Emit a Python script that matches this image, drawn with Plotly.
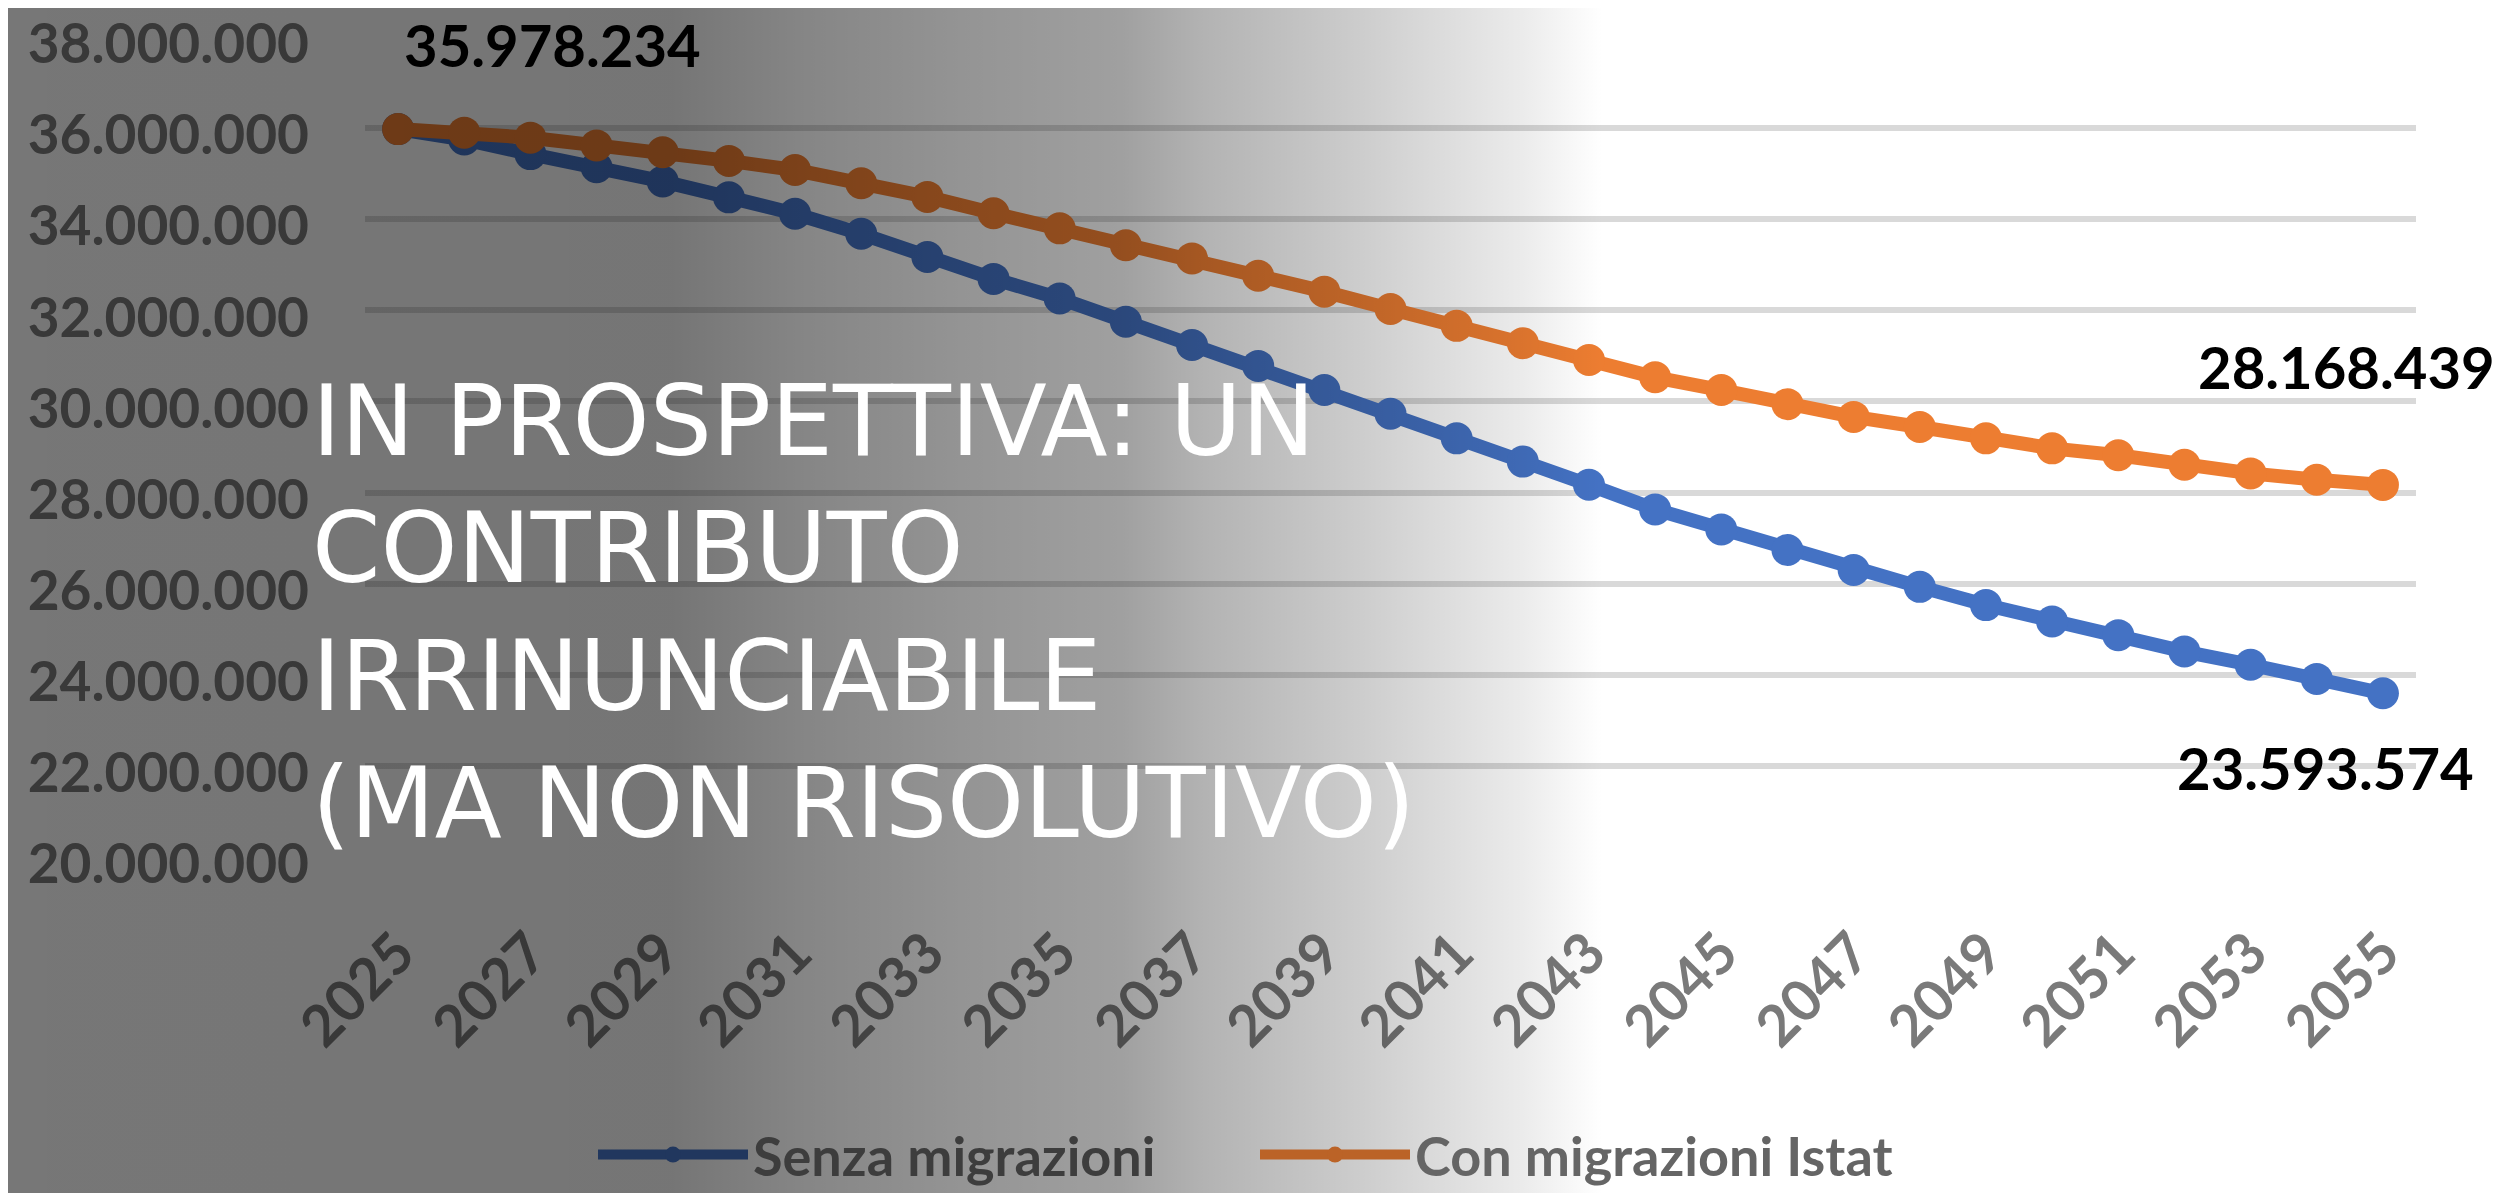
"""Popolazione in età lavorativa: proiezione con e senza migrazioni (2025-2055)."""
import base64

import plotly.graph_objects as go

# the page body keeps its 8px margin, so the figure is 16px smaller than the window
# and every position below is measured in the window and then moved by OFF
WIN_W, WIN_H = 2514, 1201
OFF = 8
W, H = WIN_W - 2 * OFF, WIN_H - 2 * OFF

# --- data -------------------------------------------------------------------
years = list(range(2025, 2056))

senza_migrazioni = [35978234, 35750000, 35430000, 35140000, 34830000, 34480000,
                    34120000, 33680000, 33170000, 32690000, 32260000, 31750000,
                    31240000, 30780000, 30250000, 29730000, 29190000, 28680000,
                    28170000, 27630000, 27190000, 26740000, 26300000, 25930000,
                    25530000, 25170000, 24870000, 24510000, 24220000, 23910000,
                    23593574]

con_migrazioni = [35978234, 35900000, 35790000, 35620000, 35470000, 35280000,
                  35080000, 34790000, 34490000, 34130000, 33800000, 33430000,
                  33140000, 32760000, 32410000, 32030000, 31660000, 31280000,
                  30910000, 30530000, 30250000, 29940000, 29660000, 29440000,
                  29190000, 28970000, 28820000, 28610000, 28420000, 28280000,
                  28168439]

series_names = ["Senza migrazioni", "Con migrazioni Istat"]
y_ticks = list(range(20000000, 38000001, 2000000))
x_ticks = years[::2]

title_lines = ["IN PROSPETTIVA: UN", "CONTRIBUTO", "IRRINUNCIABILE",
               "(MA NON RISOLUTIVO)"]

# --- style ------------------------------------------------------------------
BLUE, ORANGE = "#4472C4", "#ED7D31"
TICK_GREY = "#7a7a7a"
FONT = "Lato"


def px_x(x):
    """window pixel -> paper fraction"""
    return (x - OFF) / W


def px_y(y):
    return 1 - (y - OFF) / H


def fmt_it(v):
    """38000000 -> 38.000.000"""
    return f"{v:,}".replace(",", ".")


def shade_overlay():
    """Dark shade fading to transparent from left to right, as an svg data uri."""
    # (window x in px, opacity of black)
    stops = [(0, 0.535), (673, 0.54), (800, 0.478), (962, 0.42), (1122, 0.373),
             (1203, 0.30), (1363, 0.196), (1523, 0.078), (1603, 0.0), (WIN_W, 0.0)]
    stop_tags = "".join(
        f'<stop offset="{max(0.0, (x - OFF) / W):.4f}" stop-color="#000" '
        f'stop-opacity="{a}"/>' for x, a in stops)
    svg = (f'<svg xmlns="http://www.w3.org/2000/svg" width="{W}" height="{H}" '
           f'viewBox="0 0 {W} {H}" preserveAspectRatio="none">'
           f'<defs><linearGradient id="g" x1="0" y1="0" x2="1" y2="0">{stop_tags}'
           f'</linearGradient></defs>'
           f'<rect width="{W}" height="{H}" fill="url(#g)"/></svg>')
    return "data:image/svg+xml;base64," + base64.b64encode(svg.encode()).decode()


fig = go.Figure()

# blue first so the orange sits on top where they overlap
for values, color in [(senza_migrazioni, BLUE), (con_migrazioni, ORANGE)]:
    fig.add_trace(go.Scatter(x=years, y=values, mode="lines+markers",
                             line=dict(color=color, width=14),
                             marker=dict(color=color, size=32),
                             showlegend=False, hoverinfo="skip"))

# legend entries: drawn above the shade, so use the shaded colours directly
legend_line_colors = ["#21375E", "#BB6327"]
legend_text_colors = ["#3d3d3d", "#656565"]
for name, lc, tc in zip(series_names, legend_line_colors, legend_text_colors):
    fig.add_trace(go.Scatter(x=[None], y=[None], mode="lines+markers",
                             name=f"<span style='color:{tc}'>{name}</span>",
                             line=dict(color=lc, width=14),
                             marker=dict(color=lc, size=32)))

# data labels (shift in px from the point)
labels = [(years[0], con_migrazioni[0], 154, 85),
          (years[-1], con_migrazioni[-1], -36, 118),
          (years[-1], senza_migrazioni[-1], -57, -74)]
for x, y, dx, dy in labels:
    fig.add_annotation(x=x, y=y, text=fmt_it(y), showarrow=False,
                       xshift=dx, yshift=dy,
                       font=dict(family=FONT, size=58, color="black", weight="bold"))

# slide title over the chart
fig.add_annotation(xref="paper", yref="paper", x=px_x(310), y=px_y(362),
                   xanchor="left", yanchor="top", align="left", showarrow=False,
                   text="<br>".join(title_lines),
                   font=dict(family="DejaVu Sans", size=98, color="white"))

fig.update_layout(
    width=W, height=H,
    margin=dict(l=0, r=0, t=0, b=0, autoexpand=False),
    paper_bgcolor="white", plot_bgcolor="white",
    xaxis=dict(domain=[px_x(365), px_x(2416)], range=[2024.5, 2055.5],
               tickvals=x_ticks, ticktext=[str(v) for v in x_ticks],
               tickangle=-45, showgrid=False, zeroline=False, showline=False,
               ticks="", ticklabelstandoff=50, automargin=False,
               ticklabeloverflow="allow",
               tickfont=dict(family=FONT, size=57, color=TICK_GREY, weight="bold")),
    yaxis=dict(domain=[px_y(857), px_y(37)], range=[20000000, 38000000],
               tickvals=y_ticks, ticktext=[fmt_it(v) for v in y_ticks],
               showgrid=True, gridcolor="#d9d9d9", gridwidth=6,
               zeroline=False, showline=False, ticks="", ticklabelstandoff=55,
               ticklabelshift=7,  # keeps the top label inside the page
               automargin=False, ticklabeloverflow="allow",
               tickfont=dict(family=FONT, size=55, color=TICK_GREY, weight="bold")),
    legend=dict(orientation="h", x=px_x(593), y=px_y(1155),
                xanchor="left", yanchor="middle", itemwidth=150,
                entrywidth=497, entrywidthmode="pixels",
                bgcolor="rgba(0,0,0,0)", borderwidth=0,
                font=dict(family=FONT, size=54, weight="bold")),
    images=[dict(source=shade_overlay(), xref="paper", yref="paper",
                 x=0, y=1, sizex=1, sizey=1, xanchor="left", yanchor="top",
                 sizing="stretch", layer="above")],
)

fig.write_html("out.html")
